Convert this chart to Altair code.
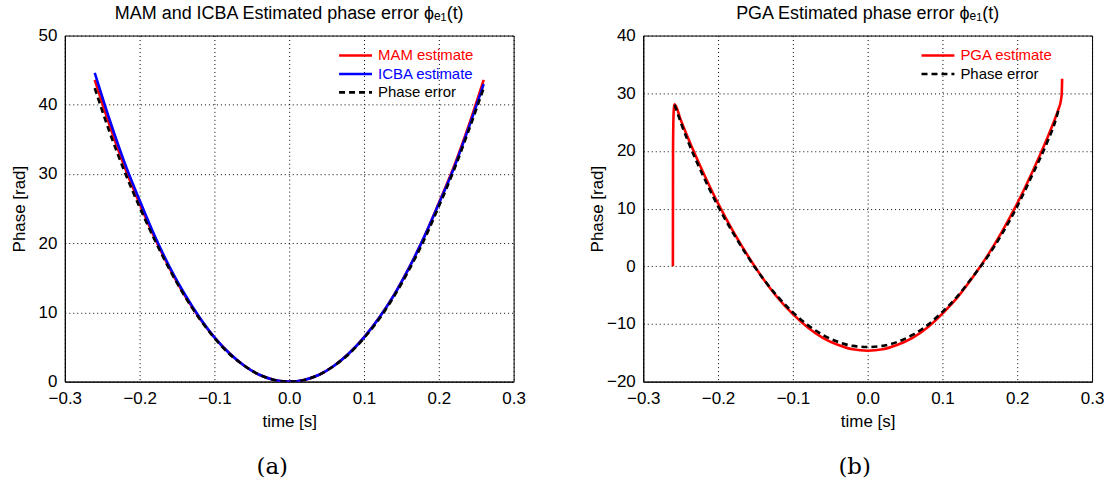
import altair as alt
import pandas as pd

# ---------------- Panel (a) data ----------------
t_a = [-0.26, -0.24, -0.22, -0.20, -0.18, -0.16, -0.14, -0.12, -0.10, -0.08, -0.06, -0.04, -0.02, 0.0,
       0.02, 0.04, 0.06, 0.08, 0.10, 0.12, 0.14, 0.16, 0.18, 0.20, 0.22, 0.24, 0.26]
mam_a = [43.6, 37.0, 31.0, 25.7, 20.8, 16.4, 12.5, 9.2, 6.4, 4.1, 2.3, 1.0, 0.25, 0.0,
         0.25, 1.0, 2.3, 4.1, 6.4, 9.2, 12.5, 16.4, 20.8, 25.8, 31.0, 37.0, 43.6]
icba_a = [44.6, 37.8, 31.6, 26.2, 21.1, 16.6, 12.7, 9.3, 6.4, 4.1, 2.3, 1.0, 0.25, 0.0,
          0.25, 1.0, 2.3, 4.1, 6.4, 9.2, 12.5, 16.4, 20.8, 25.7, 30.8, 36.7, 43.0]
err_a = [42.4, 36.0, 30.3, 25.2, 20.5, 16.2, 12.4, 9.1, 6.3, 4.0, 2.3, 1.0, 0.25, 0.0,
         0.25, 1.0, 2.3, 4.0, 6.3, 9.0, 12.3, 16.1, 20.4, 25.3, 30.5, 36.3, 42.4]

# ---------------- Panel (b) data ----------------
t_pga = [-0.2604, -0.2602, -0.2596, -0.2589, -0.2580, -0.25, -0.24, -0.22, -0.20, -0.18, -0.16, -0.14,
         -0.12, -0.10, -0.08, -0.06, -0.04, -0.02, 0.0, 0.02, 0.04, 0.06, 0.08, 0.10, 0.12, 0.14,
         0.16, 0.18, 0.20, 0.22, 0.24, 0.25, 0.255, 0.258, 0.2595, 0.2600]
pga_b = [0.0, 20.0, 26.0, 27.6, 28.1, 25.4, 22.2, 16.3, 10.9, 6.1, 1.8, -2.1,
         -5.5, -8.3, -10.6, -12.4, -13.6, -14.4, -14.65, -14.4, -13.6, -12.4, -10.6, -8.2, -5.4, -2.0,
         1.8, 6.1, 10.9, 16.3, 22.2, 25.4, 27.2, 28.5, 30.0, 32.5]
t_err_b = [-0.2580, -0.25, -0.24, -0.22, -0.20, -0.18, -0.16, -0.14, -0.12, -0.10, -0.08, -0.06,
           -0.04, -0.02, 0.0, 0.02, 0.04, 0.06, 0.08, 0.10, 0.12, 0.14, 0.16, 0.18, 0.20, 0.22,
           0.24, 0.25, 0.2556]
err_b = [28.0, 25.0, 21.6, 15.7, 10.4, 5.8, 1.6, -2.1, -5.3, -8.0, -10.2, -11.9,
         -13.1, -13.8, -14.0, -13.8, -13.1, -11.9, -10.2, -7.9, -5.2, -1.9, 1.6, 5.7, 10.4, 15.8,
         21.5, 24.8, 27.3]

x_ticks = [-0.3, -0.2, -0.1, 0.0, 0.1, 0.2, 0.3]
y_ticks_a = [0, 10, 20, 30, 40, 50]
y_ticks_b = [-20, -10, 0, 10, 20, 30, 40]

title_a = "MAM and ICBA Estimated phase error  ϕₑ₁(t)"
title_b = "PGA Estimated phase error  ϕₑ₁(t)"
legend_a = ["MAM estimate", "ICBA estimate", "Phase error"]
legend_b = ["PGA estimate", "Phase error"]
captions = ["(a)", "(b)"]

FONT = "Liberation Sans"
W, H = 450, 347
RED, BLUE, BLACK = "#ff0000", "#0000ff", "#000000"

def x_enc():
    return alt.X("t:Q", scale=alt.Scale(domain=[-0.3, 0.3], nice=False, zero=False),
                 axis=alt.Axis(values=x_ticks, format=".1f", title="time [s]", titlePadding=7))

def y_enc(dom, vals, tpad):
    return alt.Y("v:Q", scale=alt.Scale(domain=dom, nice=False, zero=False),
                 axis=alt.Axis(values=vals, title="Phase [rad]", titlePadding=tpad))

def series(t, v, color, dash=None, dom=None, vals=None, tpad=10):
    df = pd.DataFrame({"t": t, "v": v})
    kw = dict(color=color, strokeWidth=2.6, interpolate="monotone", clip=True)
    if dash:
        kw["strokeDash"] = dash
    return alt.Chart(df).mark_line(**kw).encode(x=x_enc(), y=y_enc(dom, vals, tpad))

def legend_entry(label, color, row, x0, dash=None):
    y = 20 + row * 18.5
    d = pd.DataFrame({"label": [label]})
    rk = dict(color=color, strokeWidth=2.6)
    if dash:
        rk["strokeDash"] = dash
    rule = alt.Chart(d).mark_rule(**rk).encode(
        x=alt.value(x0), x2=alt.value(x0 + 33), y=alt.value(y))
    txt = alt.Chart(d).mark_text(align="left", baseline="middle", font=FONT, fontSize=15,
                                 color=color).encode(
        x=alt.value(x0 + 39), y=alt.value(y), text="label:N")
    return rule + txt

def caption(label, xpos):
    d = pd.DataFrame({"label": [label]})
    return alt.Chart(d).mark_text(font="DejaVu Serif", fontSize=23, color="black",
                                  baseline="middle", align="center").encode(
        x=alt.value(xpos), y=alt.value(H + 86), text="label:N")

DASH = [6, 4]
dom_a, dom_b = [0, 50], [-20, 40]

panel_a = alt.layer(
    series(t_a, mam_a, RED, dom=dom_a, vals=y_ticks_a, tpad=10),
    series(t_a, icba_a, BLUE, dom=dom_a, vals=y_ticks_a, tpad=10),
    series(t_a, err_a, BLACK, DASH, dom=dom_a, vals=y_ticks_a, tpad=10),
    legend_entry(legend_a[0], RED, 0, 275),
    legend_entry(legend_a[1], BLUE, 1, 275),
    legend_entry(legend_a[2], BLACK, 2, 275, DASH),
    caption(captions[0], 208),
).properties(width=W, height=H, title=title_a)

panel_b = alt.layer(
    series(t_pga, pga_b, RED, dom=dom_b, vals=y_ticks_b, tpad=0),
    series(t_err_b, err_b, BLACK, DASH, dom=dom_b, vals=y_ticks_b, tpad=0),
    legend_entry(legend_b[0], RED, 0, 279),
    legend_entry(legend_b[1], BLACK, 1, 279, DASH),
    caption(captions[1], 212),
).properties(width=W, height=H, title=title_b)

chart = alt.hconcat(panel_a, panel_b, spacing=61).properties(
    padding={"left": 9, "top": 3, "right": 5, "bottom": 5},
    background="white",
).configure_view(
    stroke="black", strokeWidth=1
).configure_axis(
    grid=True, gridColor="black", gridDash=[1, 3], gridWidth=1, gridOpacity=1,
    domain=True, domainColor="black", domainWidth=1,
    ticks=True, tickSize=0, labelFlush=False,
    labelFont=FONT, labelFontSize=17, labelColor="black", labelPadding=9,
    titleFont=FONT, titleFontSize=17, titleFontWeight="normal", titleColor="black",
).configure_axisY(
    labelPadding=8,
).configure_title(
    font=FONT, fontSize=18, fontWeight="normal", color="black", anchor="middle", offset=4,
)

chart.save("out.html", embed_options={"renderer": "svg", "actions": False})
